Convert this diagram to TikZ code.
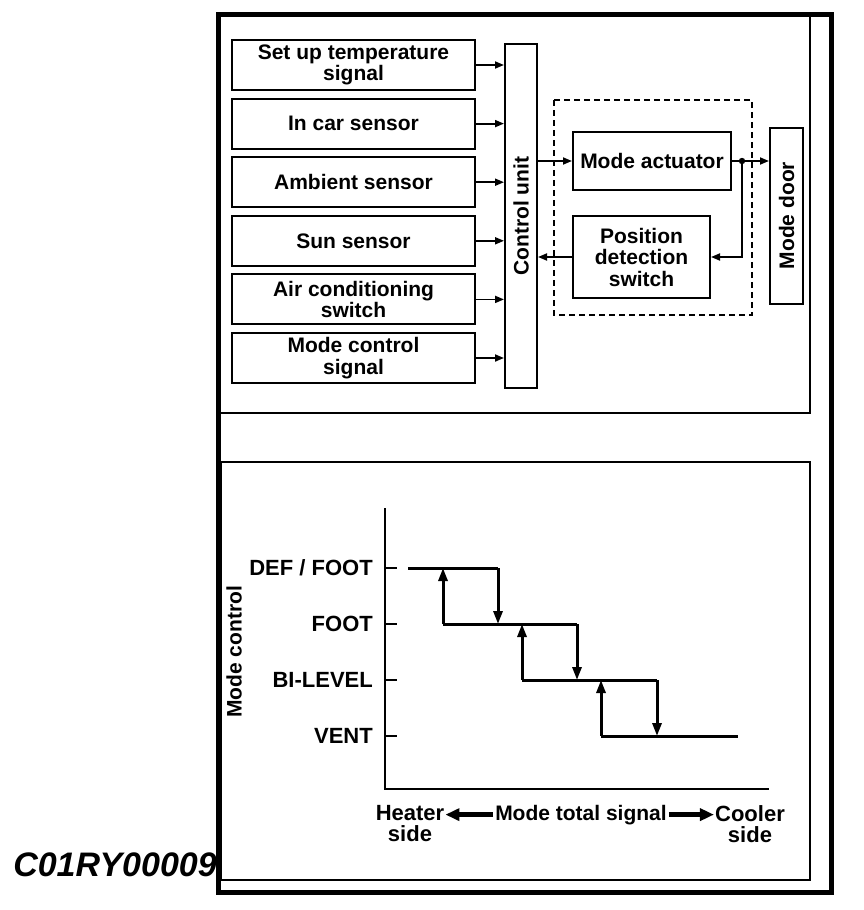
\documentclass[tikz,border=0pt]{standalone}
\usepackage{fontspec}
\setmainfont{Liberation Sans}
\usepackage{graphicx}
\usepackage{tikz}
\usetikzlibrary{
    arrows.meta,
    positioning
}
\newcommand{\diafont}{\fontsize{21}{21.5}\selectfont\bfseries}
\newcommand{\chartfont}{\fontsize{22}{21}\selectfont\bfseries}
\tikzstyle{inbox} = [
    rectangle,
    draw,
    line width=2pt,
    minimum width=243pt,
    minimum height=50pt,
    inner sep=1pt,
    align=center,
    font=\diafont
]
\tikzstyle{block} = [
    rectangle,
    draw,
    line width=2pt,
    inner sep=1pt,
    align=center,
    font=\diafont
]
\tikzstyle{flow} = [
    -{Triangle[length=9pt,width=7pt]},
    line width=1.8pt
]
\tikzstyle{axis} = [
    line width=2.6pt
]
\tikzstyle{stair} = [
    line width=3pt
]
\tikzstyle{stairflow} = [
    stair,
    -{Triangle[length=13pt,width=9pt]}
]
\tikzstyle{level} = [
    anchor=east,
    inner sep=0pt,
    font=\chartfont
]
\tikzstyle{bigarrow} = [
    -{Triangle[length=14pt,width=12pt]},
    line width=4.5pt
]

\begin{document}
\begin{tikzpicture}[x=1pt, y=-1pt]
        \useasboundingbox (0,0) rectangle (864,910);

        % Frames
        \draw[line width=5pt] (218,14) rectangle (831,892);
        \draw[line width=1.4pt] (218,14) rectangle (810,413);
        \draw[line width=1.4pt] (221,462) rectangle (810,880);

        % Input signals
        \node[inbox] (tempsig) at (353.5,65) {Set up temperature\\signal};
        \node[inbox, below=6.6pt of tempsig] (incar) {In car sensor};
        \node[inbox, below=6.6pt of incar] (ambient) {Ambient sensor};
        \node[inbox, below=6.6pt of ambient] (sun) {Sun sensor};
        \node[inbox, below=6.6pt of sun] (acswitch) {Air conditioning\\switch};
        \node[inbox, below=6.6pt of acswitch] (modesig) {Mode control\\signal};

        % Control unit
        \node[block, minimum width=32pt, minimum height=344pt] (cu) at (521,216) {\rotatebox{90}{Control unit}};
        \foreach \src in {tempsig, incar, ambient, sun, acswitch, modesig}
            \draw[flow] (\src.east) -- (\src.east -| cu.west);

        % Actuator loop
        \draw[line width=1.6pt, dash pattern=on 6pt off 4pt] (554,100) rectangle (752,315);
        \node[block, minimum width=158pt, minimum height=58pt] (act) at (652,161) {Mode actuator};
        \node[block, minimum width=137pt, minimum height=82pt] (pos) at (641.5,257) {Position\\detection\\switch};
        \node[block, minimum width=33pt, minimum height=176pt] (door) at (786.5,215.5) {\rotatebox{90}{Mode door}};
        \coordinate (split) at (742,161);

        \draw[flow] (cu.east |- act.west) -- (act.west);
        \draw[line width=1.8pt] (act.east) -- (split);
        \fill (split) circle (3.2pt);
        \draw[flow] (split) -- (split -| door.west);
        \draw[flow] (split) |- (pos.east);
        \draw[flow] (pos.west) -- (pos.west -| cu.east);

        % Mode control chart
        \node[rotate=90, font=\diafont] (ylabel) at (234,652) {Mode control};
        \coordinate (origin) at (385,789);
        \draw[axis] (385,508) -- (origin) -- (769,789);

        \node[level] (deffoot) at (373,568) {DEF / FOOT};
        \node[level] (foot) at (373,624) {FOOT};
        \node[level] (bilevel) at (373,680) {BI-LEVEL};
        \node[level] (vent) at (373,736) {VENT};
        \foreach \lv in {deffoot, foot, bilevel, vent}
            \draw[line width=1.6pt] (origin |- \lv.east) -- ++(12,0);

        % Hysteresis steps
        \draw[stair] (408,568) -- (498,568);
        \draw[stairflow] (498,568) -- (498,624);
        \draw[stairflow] (443,624) -- (443,568);
        \draw[stair] (443,624) -- (577,624);
        \draw[stairflow] (577,624) -- (577,680);
        \draw[stairflow] (522,680) -- (522,624);
        \draw[stair] (522,680) -- (657,680);
        \draw[stairflow] (657,680) -- (657,736);
        \draw[stairflow] (601,736) -- (601,680);
        \draw[stair] (601,736) -- (738,736);

        % Signal direction
        \node[font=\chartfont, align=center, inner sep=1pt] (heater) at (410,824) {Heater\\side};
        \node[font=\diafont, anchor=base, inner sep=2pt] (mts) at (581,820) {Mode total signal};
        \node[font=\chartfont, align=center, inner sep=1pt] (cooler) at (750,824) {Cooler\\side};
        \draw[bigarrow] (mts.west) -- (heater.east |- mts.west);
        \draw[bigarrow] (mts.east) -- (cooler.west |- mts.east);

        % Figure code
        \node[anchor=base east, inner sep=0pt, font=\fontsize{34}{36}\selectfont\bfseries\itshape] (figcode) at (217,876) {C01RY00009};
    \end{tikzpicture}
\end{document}
